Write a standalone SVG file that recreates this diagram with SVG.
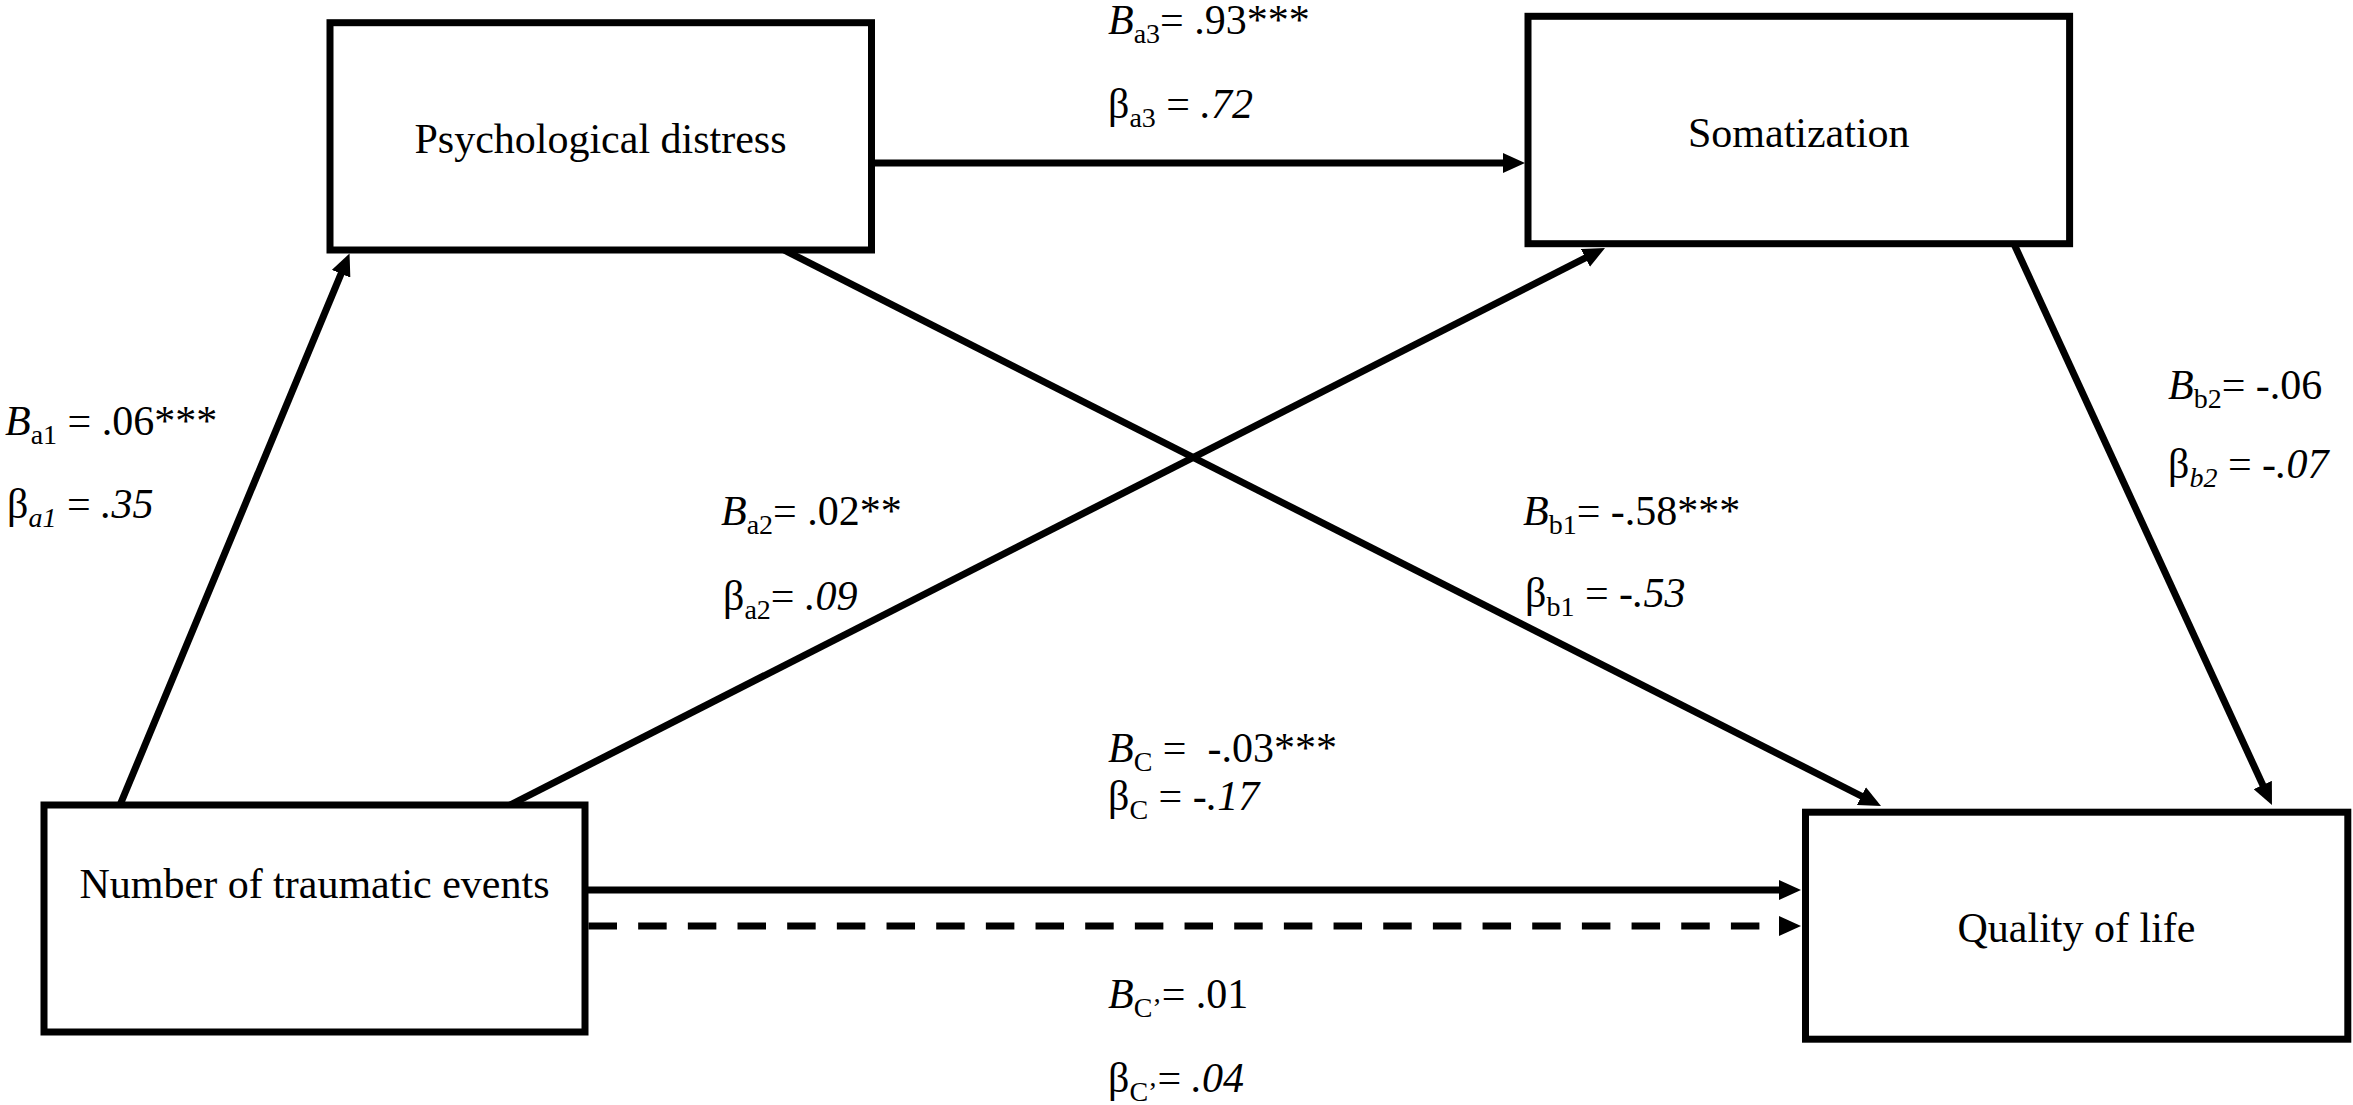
<svg xmlns="http://www.w3.org/2000/svg" width="2353" height="1105" viewBox="0 0 2353 1105">
<style>
.box{fill:#fff;stroke:#000;stroke-width:7}
.nt{font-family:"Liberation Serif","Times New Roman",serif;font-size:42px;fill:#000;text-anchor:middle}
.lb{font-family:"Liberation Serif","Times New Roman",serif;font-size:42px;fill:#000}
.i{font-style:italic}
.s{font-size:28px}
.c line{stroke:#000;stroke-width:7;fill:none}
.c line.a{marker-end:url(#ah)}
.c line.dash{stroke-dasharray:28.5 21.17}
</style>
<defs>
<marker id="ah" markerUnits="userSpaceOnUse" markerWidth="22" markerHeight="20" refX="12" refY="10" orient="auto" viewBox="0 0 22 20">
<path d="M0,0 L22,10 L0,20 Z" fill="#000"/>
</marker>
</defs>
<rect width="2353" height="1105" fill="#fff"/>
<g id="node-psych">
<rect class="box" x="330" y="22.7" width="541.5" height="227.3"/>
<text class="nt" x="600.5" y="153">Psychological distress</text>
</g>
<g id="node-soma">
<rect class="box" x="1528" y="16.3" width="541.6" height="227.4"/>
<text class="nt" x="1798.8" y="147">Somatization</text>
</g>
<g id="node-number">
<rect class="box" x="44" y="805" width="541" height="227"/>
<text class="nt" x="314.5" y="898">Number of traumatic events</text>
</g>
<g id="node-qol">
<rect class="box" x="1805.5" y="812.2" width="542.3" height="227"/>
<text class="nt" x="2076.5" y="942">Quality of life</text>
</g>
<g id="connectors" class="c">
<line class="a" x1="875" y1="163" x2="1515" y2="163"/>
<line class="a" x1="588" y1="890" x2="1791" y2="890"/>
<line class="a dash" x1="588.5" y1="926" x2="1791" y2="926"/>
<line class="a" x1="120" y1="805" x2="345.7" y2="262.7"/>
<line class="a" x1="510" y1="805" x2="1596.1" y2="252.5"/>
<line class="a" x1="784" y1="250" x2="1872.1" y2="801.5"/>
<line class="a" x1="2014" y1="244" x2="2267.8" y2="795.9"/>
</g>
<g id="labels">
<text class="lb" x="1108" y="34"><tspan class="i">B</tspan><tspan class="s" dy="9">a3</tspan><tspan dy="-9">= .93***</tspan></text>
<text class="lb" x="1108" y="118"><tspan>β</tspan><tspan class="s" dy="9">a3</tspan><tspan dy="-9"> = </tspan><tspan class="i">.72</tspan></text>
<text class="lb" x="5" y="435"><tspan class="i">B</tspan><tspan class="s" dy="9">a1</tspan><tspan dy="-9"> = .06***</tspan></text>
<text class="lb" x="7" y="518"><tspan>β</tspan><tspan class="s i" dy="9">a1</tspan><tspan dy="-9"> = </tspan><tspan class="i">.35</tspan></text>
<text class="lb" x="721" y="525"><tspan class="i">B</tspan><tspan class="s" dy="9">a2</tspan><tspan dy="-9">= .02**</tspan></text>
<text class="lb" x="723" y="610"><tspan>β</tspan><tspan class="s" dy="9">a2</tspan><tspan dy="-9">= </tspan><tspan class="i">.09</tspan></text>
<text class="lb" x="1523" y="525"><tspan class="i">B</tspan><tspan class="s" dy="9">b1</tspan><tspan dy="-9">= -.58***</tspan></text>
<text class="lb" x="1525" y="607"><tspan>β</tspan><tspan class="s" dy="9">b1</tspan><tspan dy="-9"> = </tspan><tspan class="i">-.53</tspan></text>
<text class="lb" x="2168" y="399"><tspan class="i">B</tspan><tspan class="s" dy="9">b2</tspan><tspan dy="-9">= -.06</tspan></text>
<text class="lb" x="2168" y="478"><tspan>β</tspan><tspan class="s i" dy="9">b2</tspan><tspan dy="-9"> = </tspan><tspan class="i">-.07</tspan></text>
<text class="lb" x="1108" y="762" xml:space="preserve"><tspan class="i">B</tspan><tspan class="s" dy="9">C</tspan><tspan dy="-9"> =  -.03***</tspan></text>
<text class="lb" x="1108" y="810"><tspan>β</tspan><tspan class="s" dy="9">C</tspan><tspan dy="-9"> = </tspan><tspan class="i">-.17</tspan></text>
<text class="lb" x="1108" y="1008"><tspan class="i">B</tspan><tspan class="s" dy="9">C’</tspan><tspan dy="-9">= .01</tspan></text>
<text class="lb" x="1108" y="1092"><tspan>β</tspan><tspan class="s" dy="9">C’</tspan><tspan dy="-9">= </tspan><tspan class="i">.04</tspan></text>
</g>
</svg>
